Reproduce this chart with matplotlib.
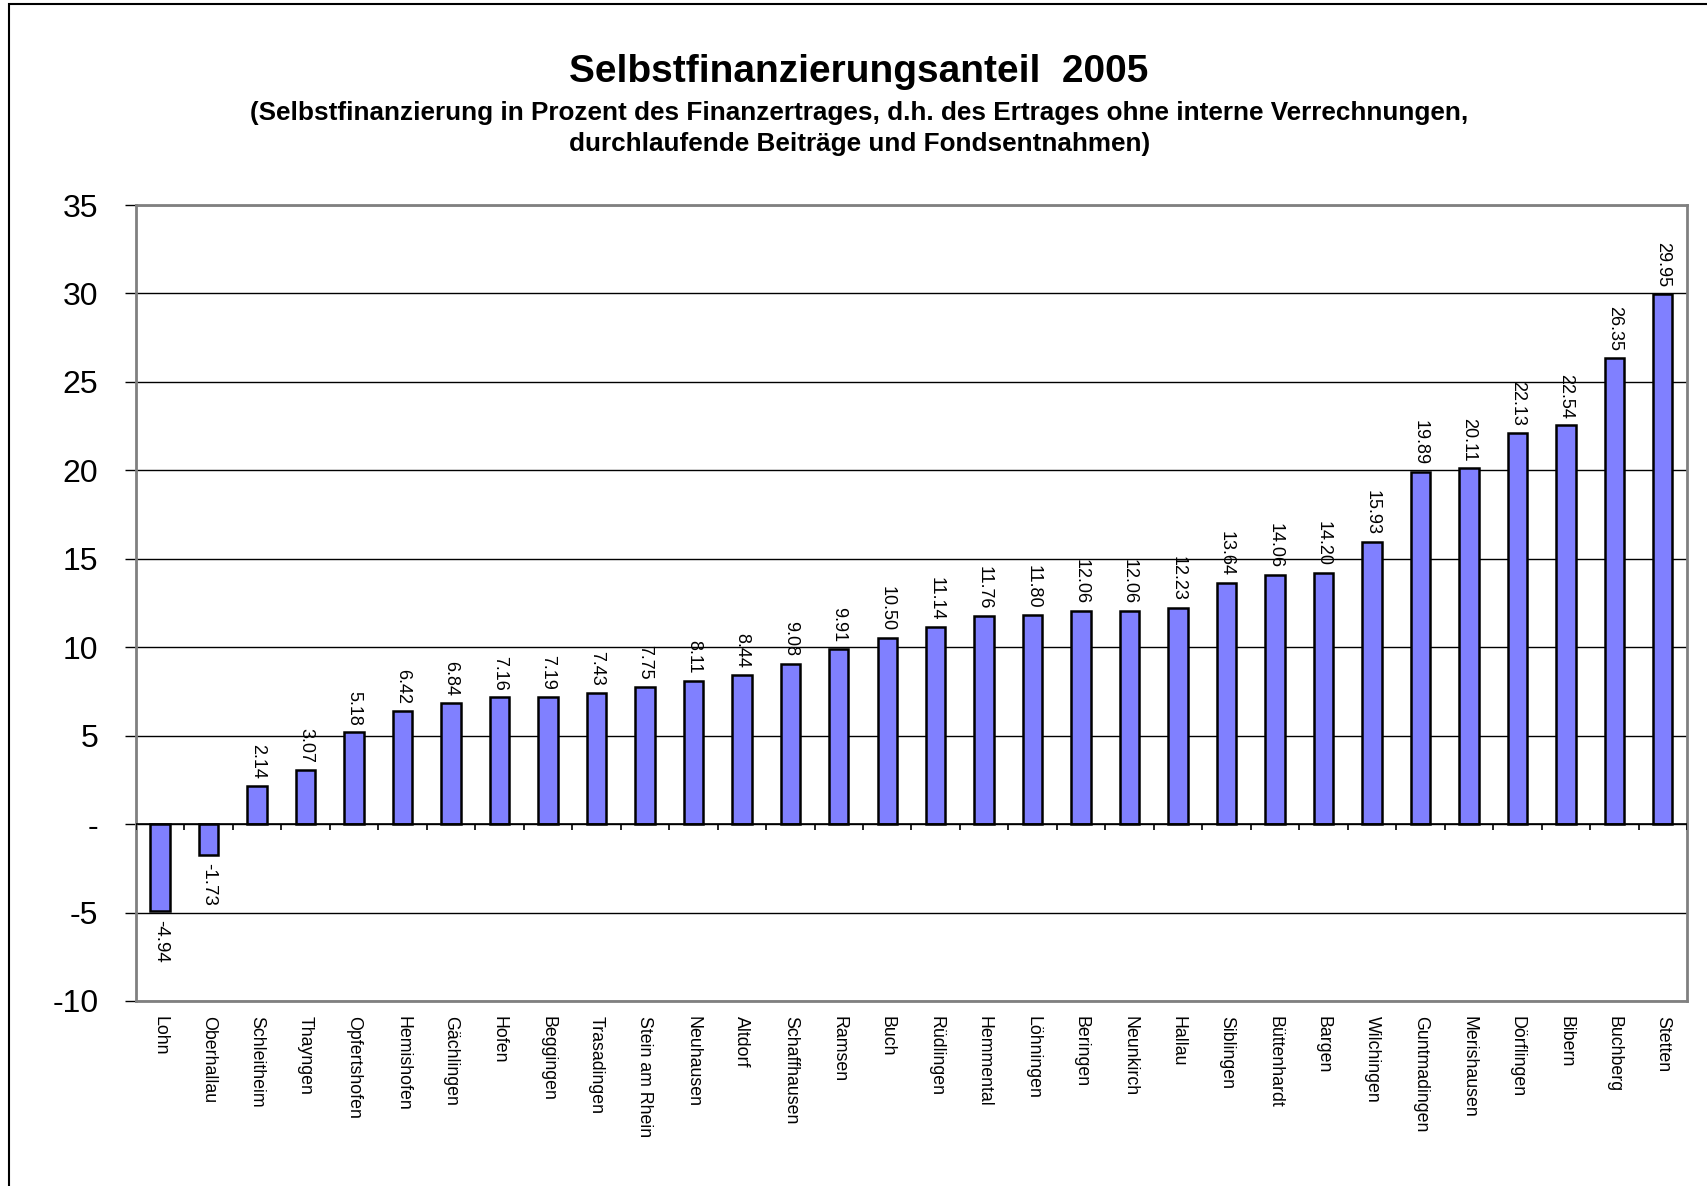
import matplotlib
matplotlib.use('Agg')
import matplotlib.pyplot as plt
import numpy as np
from matplotlib.patches import Rectangle

plt.rcParams['font.family'] = ['Liberation Sans', 'DejaVu Sans']

# Gemeinden, sorted by value as in the source chart
gemeinden = ['Lohn', 'Oberhallau', 'Schleitheim', 'Thayngen', 'Opfertshofen', 'Hemishofen',
             'Gächlingen', 'Hofen', 'Beggingen', 'Trasadingen', 'Stein am Rhein', 'Neuhausen',
             'Altdorf', 'Schaffhausen', 'Ramsen', 'Buch', 'Rüdlingen', 'Hemmental', 'Löhningen',
             'Beringen', 'Neunkirch', 'Hallau', 'Siblingen', 'Büttenhardt', 'Bargen', 'Wilchingen',
             'Guntmadingen', 'Merishausen', 'Dörflingen', 'Bibern', 'Buchberg', 'Stetten']
anteil = [-4.94, -1.73, 2.14, 3.07, 5.18, 6.42, 6.84, 7.16, 7.19, 7.43, 7.75, 8.11,
          8.44, 9.08, 9.91, 10.50, 11.14, 11.76, 11.80, 12.06, 12.06, 12.23, 13.64, 14.06,
          14.20, 15.93, 19.89, 20.11, 22.13, 22.54, 26.35, 29.95]
yticks = [-10, -5, 0, 5, 10, 15, 20, 25, 30, 35]
ytick_labels = ['-10', '-5', '-', '5', '10', '15', '20', '25', '30', '35']

fig = plt.figure(figsize=(17.08, 11.86), dpi=100)
# frame around the whole chart (cut off at right and bottom like the original)
fig.patches.append(Rectangle((0.005, -0.05), 1.2, 1.047, transform=fig.transFigure,
                             fill=False, edgecolor='black', linewidth=1.5))

ax = fig.add_axes([0.0796, 0.156, 0.9081, 0.6711])
x = np.arange(len(gemeinden))
ax.bar(x, anteil, width=0.4, color='#8080FF', edgecolor='black', linewidth=1.8, zorder=3)

# zero line with small category separator ticks
ax.axhline(0, color='black', linewidth=1.2, zorder=4)
ax.vlines(np.arange(len(gemeinden) + 1) - 0.5, -0.35, 0, color='black', linewidth=1.2, zorder=4)

for xi, v in zip(x, anteil):
    if v >= 0:
        ax.annotate('%.2f' % v, (xi, v), xytext=(0, 5), textcoords='offset points',
                    rotation=-90, ha='center', va='bottom', fontsize=13)
    else:
        ax.annotate('%.2f' % v, (xi, v), xytext=(0, -6), textcoords='offset points',
                    rotation=-90, ha='center', va='top', fontsize=13.5)

ax.set_xlim(-0.5, len(gemeinden) - 0.5)
ax.set_ylim(-10, 35)
ax.set_yticks(yticks)
ax.set_yticklabels(ytick_labels, fontsize=23)
ax.tick_params(axis='y', direction='out', length=8, width=1, pad=19, color='black')
ax.set_xticks(x)
ax.set_xticklabels(gemeinden, rotation=-90, fontsize=12.8, va='top', ha='center')
ax.tick_params(axis='x', length=0, pad=11)
ax.yaxis.grid(True, color='black', linewidth=1)
ax.set_axisbelow(True)
for s in ['left', 'right', 'top', 'bottom']:
    ax.spines[s].set_color('#808080')
    ax.spines[s].set_linewidth(2)

fig.text(0.503, 0.939, 'Selbstfinanzierungsanteil  2005', ha='center', va='center',
         fontsize=28, fontweight='bold')
fig.text(0.503, 0.905, '(Selbstfinanzierung in Prozent des Finanzertrages, d.h. des Ertrages ohne interne Verrechnungen,',
         ha='center', va='center', fontsize=18.8, fontweight='bold')
fig.text(0.503, 0.879, 'durchlaufende Beiträge und Fondsentnahmen)',
         ha='center', va='center', fontsize=18.8, fontweight='bold')

plt.savefig('out.png', dpi=100)
